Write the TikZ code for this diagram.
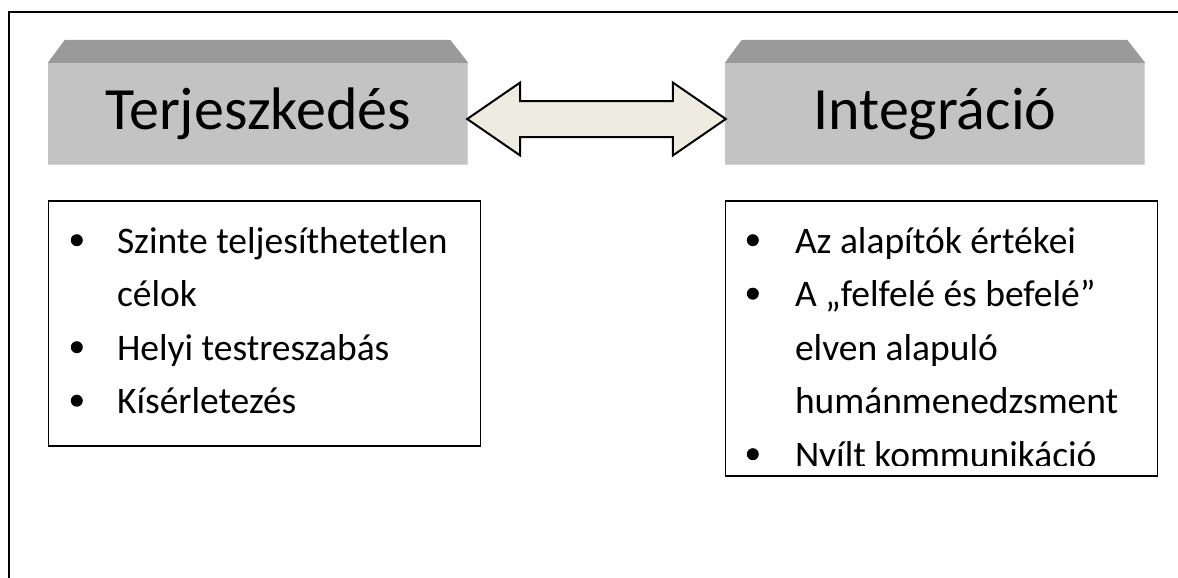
\documentclass[tikz,border=0pt]{standalone}
\usepackage{fontspec}
\setmainfont{Carlito}
\usepackage{xcolor}
\usetikzlibrary{positioning,calc}
\definecolor{facegray}{HTML}{C3C3C3}
\definecolor{topgray}{HTML}{9A9A9A}
\definecolor{edgegray}{HTML}{D6D6D6}
\definecolor{arrowtan}{HTML}{EEECE1}

\begin{document}
\begin{tikzpicture}[x=1pt, y=-1pt,
    header/.style={rectangle, fill=facegray, minimum width=420pt, minimum height=102pt, inner sep=0pt, font=\fontsize{60}{72}\selectfont},
    listbox/.style={rectangle, draw, line width=1.4pt, minimum width=432pt, anchor=north west},
    item/.style={anchor=base west, inner sep=0pt, font=\fontsize{37.5}{45}\selectfont},
    fatarrow/.style={draw, line width=2pt, fill=arrowtan, line join=miter}
]
\useasboundingbox (0,0) rectangle (1178,578);
\draw[line width=2pt] (9,578) -- (9,12) -- (1180,12);

\node[header] (lh) at (258,114) {Terjeszkedés};
\node[header] (rh) at (935,114) {Integráció};
\foreach \h in {lh,rh} {
  \fill[topgray] (\h.north west) -- ++(17,-23) -- ($(\h.north east)+(-18,-23)$) -- (\h.north east) -- cycle;
  \draw[edgegray, line width=1.5pt] ($(\h.north east)+(-0.75,0)$) -- ($(\h.south east)+(-0.75,-0.75)$) -- ($(\h.south west)+(0,-0.75)$);
}

\draw[fatarrow] ($(lh.east)+(-1,5)$) -- ++(53,-36.5) -- ++(0,18.5) -- ($(rh.west)+(-52,-13)$) -- ++(0,-18.5) -- ($(rh.west)+(1,5)$) -- ++(-53,36.5) -- ++(0,-18.5) -- ($(lh.east)+(52,23)$) -- ++(0,18.5) -- cycle;

\node[listbox, minimum height=245pt] (lbox) at ($(lh.south west)+(0,35)$) {};
\node[listbox, minimum height=275pt] (rbox) at ($(rh.south west)+(0,35)$) {};

\foreach \txt/\b [count=\i from 0] in {Szinte teljesíthetetlen/1, célok/0, Helyi testreszabás/1, Kísérletezés/1} {
  \node[item] (ll\i) at ($(lbox.north west)+(69,53+53.5*\i)$) {\txt};
  \ifnum\b=1 \fill ($(ll\i.base west)+(-40,-13)$) circle (6pt); \fi
}

\begin{scope}
\clip (rbox.north west) rectangle ($(rbox.south east)+(0,-11)$);
\foreach \txt/\b [count=\i from 0] in {Az alapítók értékei/1, A „felfelé és befelé”/1, elven alapuló/0, humánmenedzsment/0, Nyílt kommunikáció/1} {
  \node[item] (rl\i) at ($(rbox.north west)+(70,53+53.5*\i)$) {\txt};
  \ifnum\b=1 \fill ($(rl\i.base west)+(-42,-13)$) circle (6pt); \fi
}
\end{scope}
\end{tikzpicture}
\end{document}
